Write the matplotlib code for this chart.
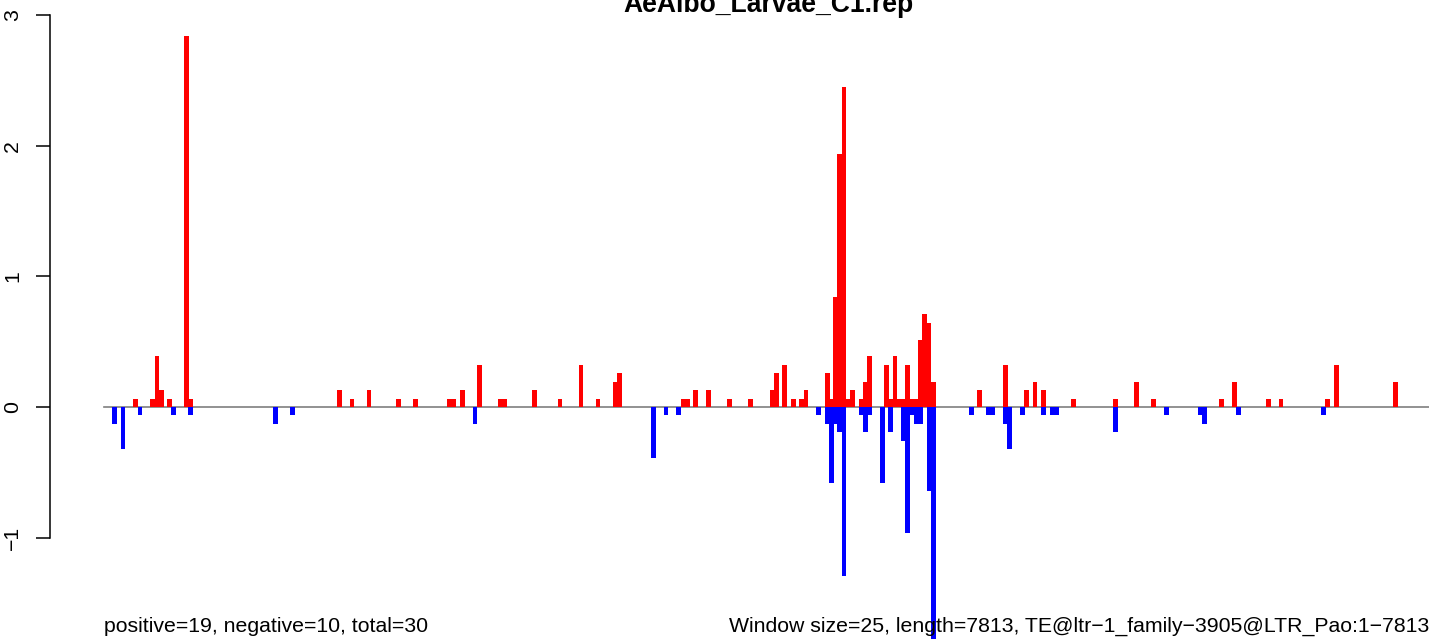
import matplotlib
matplotlib.use("Agg")
import matplotlib.pyplot as plt

plt.rcParams["font.family"] = ["Liberation Sans", "DejaVu Sans"]

W, H = 1429, 639

# window start (bp) and coverage of the positive strand (red, up)
pos_start = [175, 275, 300, 325, 375, 475, 500,
             1375, 1450, 1550, 1725, 1825, 2025, 2050, 2100, 2200, 2325, 2350, 2525,
             2675, 2800, 2900, 3000, 3025, 3400, 3425, 3475, 3550, 3675, 3800,
             3925, 3950, 4000, 4050, 4100, 4125, 4250, 4275, 4300, 4325, 4350, 4375,
             4400, 4450, 4475, 4500,
             4600, 4625, 4650, 4675, 4700, 4725, 4750, 4775, 4800, 4825, 4850, 4875,
             5150, 5300, 5425, 5475, 5525, 5700, 5950, 6075, 6175,
             6575, 6650, 6850, 6925, 7200, 7250, 7600]
pos_value = [0.065, 0.065, 0.387, 0.129, 0.065, 2.839, 0.065,
             0.129, 0.065, 0.129, 0.065, 0.065, 0.065, 0.065, 0.129, 0.323, 0.065, 0.065, 0.129,
             0.065, 0.323, 0.065, 0.194, 0.258, 0.065, 0.065, 0.129, 0.129, 0.065, 0.065,
             0.129, 0.258, 0.323, 0.065, 0.065, 0.129, 0.258, 0.065, 0.839, 1.935, 2.452, 0.065,
             0.129, 0.065, 0.194, 0.387,
             0.323, 0.065, 0.387, 0.065, 0.065, 0.323, 0.065, 0.065, 0.516, 0.710, 0.645, 0.194,
             0.129, 0.323, 0.129, 0.194, 0.129, 0.065, 0.065, 0.194, 0.065,
             0.065, 0.194, 0.065, 0.065, 0.065, 0.323, 0.194]

# window start (bp) and coverage of the negative strand (blue, down)
neg_start = [50, 100, 200, 400, 500, 1000, 1100,
             2175, 3225, 3300, 3375,
             4200, 4250, 4275, 4300, 4325, 4350, 4450, 4475, 4500,
             4575, 4625, 4700, 4725, 4750, 4775, 4800, 4850, 4875,
             5100, 5200, 5225, 5300, 5325, 5400, 5525, 5575, 5600,
             5950, 6250, 6450, 6475, 6675, 7175]
neg_value = [-0.129, -0.323, -0.065, -0.065, -0.065, -0.129, -0.065,
             -0.129, -0.387, -0.065, -0.065,
             -0.065, -0.129, -0.581, -0.129, -0.194, -1.290, -0.065, -0.194, -0.065,
             -0.581, -0.194, -0.258, -0.968, -0.065, -0.129, -0.129, -0.645, -1.935,
             -0.065, -0.065, -0.065, -0.129, -0.323, -0.065, -0.065, -0.065, -0.065,
             -0.194, -0.065, -0.065, -0.129, -0.065, -0.065]

seq_len = 7813
title = "AeAlbo_Larvae_C1.rep"
left_note = "positive=19, negative=10, total=30"
right_note = "Window size=25, length=7813, TE@ltr\u22121_family\u22123905@LTR_Pao:1\u22127813"

fig = plt.figure(figsize=(W / 100, H / 100), dpi=100)
ax = fig.add_axes([50 / W, 0, (W - 50) / W, 1])

px_per_bp = 0.16968
ax.set_xlim((50 - 106) / px_per_bp, (W - 106) / px_per_bp)
ax.set_ylim(-(H - 407) / 130.67, 407 / 130.67)

ax.plot([-12, seq_len], [0, 0], color="#7f7f7f", lw=1.2, zorder=1)
ax.bar(neg_start, neg_value, width=28, color="#0000ff", linewidth=0, zorder=2)
ax.bar(pos_start, pos_value, width=28, color="#ff0000", linewidth=0, zorder=3)

for s in ["top", "right", "bottom"]:
    ax.spines[s].set_visible(False)
ax.spines["left"].set_bounds(-1, 3)
ax.spines["left"].set_linewidth(1.1)
ax.set_xticks([])
ax.set_yticks([-1, 0, 1, 2, 3])
ax.set_yticklabels(["\u22121", "0", "1", "2", "3"], rotation=90, va="center")
ax.tick_params(axis="y", length=10, width=1.1, pad=10, labelsize=15.3)
ax.patch.set_alpha(0)

fig.text(768 / W, 1 - 12 / H, title, ha="center", va="baseline",
         fontsize=19.1, fontweight="bold")
fig.text(104 / W, 1 - 632 / H, left_note, ha="left", va="baseline", fontsize=15.3)
fig.text(1429 / W, 1 - 632 / H, right_note, ha="right", va="baseline", fontsize=15.3)

fig.savefig("out.png", dpi=100)
